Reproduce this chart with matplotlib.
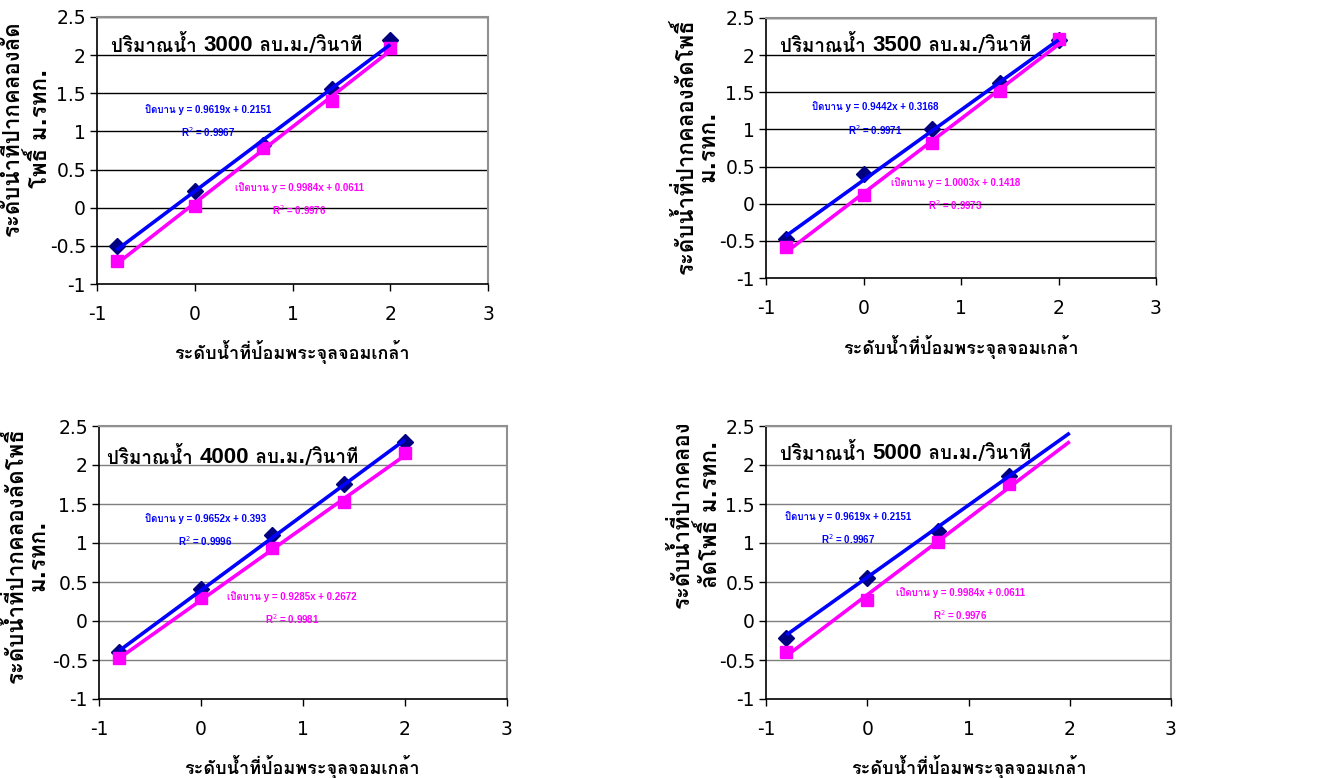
import numpy as np
import matplotlib
matplotlib.use("Agg")
import matplotlib.pyplot as plt
from matplotlib import font_manager
from matplotlib.ft2font import FT2Font
import matplotlib.patheffects as pe

# ---------------- data ----------------
x_vals = [-0.8, 0.0, 0.7, 1.4, 2.0]

flows = ["3000", "3500", "4000", "5000"]

closed_1 = [-0.50, 0.22, 0.82, 1.56, 2.20]
opened_1 = [-0.70, 0.02, 0.78, 1.40, 2.10]
closed_2 = [-0.48, 0.40, 1.00, 1.63, 2.20]
opened_2 = [-0.58, 0.12, 0.82, 1.52, 2.22]
closed_3 = [-0.40, 0.41, 1.10, 1.76, 2.30]
opened_3 = [-0.48, 0.30, 0.94, 1.52, 2.15]
closed_4 = [-0.22, 0.55, 1.15, 1.86, None]
opened_4 = [-0.40, 0.27, 1.01, 1.76, None]

# trendline (slope, intercept) as drawn
trend_closed = [(0.9619, 0.2151), (0.9442, 0.3168), (0.9652, 0.393), (0.925, 0.56)]
trend_opened = [(0.9984, 0.0611), (1.0003, 0.1418), (0.9285, 0.2672), (0.982, 0.336)]

eq_closed = ["ปิดบาน y = 0.9619x + 0.2151\nR$^2$ = 0.9967",
             "ปิดบาน y = 0.9442x + 0.3168\nR$^2$ = 0.9971",
             "ปิดบาน y = 0.9652x + 0.393\nR$^2$ = 0.9996",
             "ปิดบาน y = 0.9619x + 0.2151\nR$^2$ = 0.9967"]
eq_opened = ["เปิดบาน y = 0.9984x + 0.0611\nR$^2$ = 0.9976",
             "เปิดบาน y = 1.0003x + 0.1418\nR$^2$ = 0.9973",
             "เปิดบาน y = 0.9285x + 0.2672\nR$^2$ = 0.9981",
             "เปิดบาน y = 0.9984x + 0.0611\nR$^2$ = 0.9976"]

ylabels = ["ระดับน้ำที่ปากคลองลัด\nโพธิ์ ม.รทก.",
           "ระดับน้ำที่ปากคลองลัดโพธิ์\nม.รทก.",
           "ระดับน้ำที่ปากคลองลัดโพธิ์\nม.รทก.",
           "ระดับน้ำที่ปากคลอง\nลัดโพธิ์ ม.รทก."]
xlabel = "ระดับน้ำที่ป้อมพระจุลจอมเกล้า"
title_pre = "ปริมาณน้ำ "
title_post = " ลบ.ม./วินาที"

x_ticks = [-1, 0, 1, 2, 3]
y_ticks = [-1, -0.5, 0, 0.5, 1, 1.5, 2, 2.5]
y_ticklabels = ["-1", "-0.5", "0", "0.5", "1", "1.5", "2", "2.5"]

# ---------------- font detection for Thai ----------------
thai = {}
for fe in font_manager.fontManager.ttflist:
    try:
        cm = FT2Font(fe.fname).get_charmap()
        if ord("ก") in cm and ord("ำ") in cm:
            w = fe.weight
            isbold = (w in ("bold", "heavy", "black", "semibold", "demibold")) or \
                     (isinstance(w, int) and w >= 600)
            thai.setdefault(fe.name, False)
            thai[fe.name] = thai[fe.name] or isbold
    except Exception:
        pass
thai_family = None
thai_has_bold = False
for name, hb in thai.items():
    if hb:
        thai_family, thai_has_bold = name, True
        break
if thai_family is None and thai:
    thai_family = list(thai.keys())[0]

base = ["DejaVu Sans"] + ([thai_family] if thai_family else [])
plt.rcParams["font.family"] = base
narrow = ["Liberation Sans Narrow", "Liberation Sans"] + ([thai_family] if thai_family else [])
libsans = ["Liberation Sans"] + ([thai_family] if thai_family else [])

def boldfx(color="black", w=0.9):
    if thai_has_bold:
        return []
    return [pe.withStroke(linewidth=w, foreground=color)]

# ---------------- layout ----------------
W, H = 1325, 778
fig = plt.figure(figsize=(W / 100, H / 100), dpi=100)

def px_axes(l, t, r, b):
    return [l / W, 1 - b / H, (r - l) / W, (b - t) / H]

axes_px = [(97, 17, 488, 284), (766, 18, 1156, 278),
           (99, 426, 507, 699), (766, 426, 1171, 699)]
grid_cols = ["black", "black", "#7f7f7f", "#7f7f7f"]
title_pos = [(0.036, 0.895), (0.036, 0.896), (0.02, 0.886), (0.035, 0.90)]
eq_c_pos = [(0.136, 1.36), (0.118, 1.38), (0.04, 1.39), (-0.19, 1.41)]
eq_o_pos = [(1.07, 0.34), (0.94, 0.36), (0.89, 0.39), (0.92, 0.44)]
ylab_pos = [(25, 128), (695, 146), (25, 555), (695, 514)]
xlab_pos = [(292, 352), (961, 347), (302, 767), (969, 767)]

closed_all = [closed_1, closed_2, closed_3, closed_4]
opened_all = [opened_1, opened_2, opened_3, opened_4]

for i in range(4):
    ax = fig.add_axes(px_axes(*axes_px[i]))
    ax.set_xlim(-1, 3)
    ax.set_ylim(-1, 2.5)
    ax.set_xticks(x_ticks)
    ax.set_xticklabels([str(v) for v in x_ticks])
    ax.set_yticks(y_ticks)
    ax.set_yticklabels(y_ticklabels)
    ax.tick_params(axis="both", labelsize=13.5, direction="out", length=5,
                   width=1, color="black")
    ax.tick_params(axis="x", pad=10)
    ax.tick_params(axis="y", pad=3)
    for yv in y_ticks[1:]:
        ax.axhline(yv, color=grid_cols[i], lw=1, zorder=1)
    for s in ("left", "bottom"):
        ax.spines[s].set_color("black")
        ax.spines[s].set_linewidth(1.2)
    for s in ("top", "right"):
        ax.spines[s].set_color("#909090")
        ax.spines[s].set_linewidth(1.5)

    xs_c = [x for x, y in zip(x_vals, closed_all[i]) if y is not None]
    ys_c = [y for y in closed_all[i] if y is not None]
    xs_o = [x for x, y in zip(x_vals, opened_all[i]) if y is not None]
    ys_o = [y for y in opened_all[i] if y is not None]

    ax.plot(xs_c, ys_c, ls="none", marker="D", ms=8, color="#000080", zorder=3)
    ax.plot(xs_o, ys_o, ls="none", marker="s", ms=9, color="#FF00FF", zorder=3)

    xl = np.array([x_vals[0], x_vals[-1]])
    m, c = trend_closed[i]
    ax.plot(xl, m * xl + c, color="#0000FF", lw=2.6, zorder=4, solid_capstyle="butt")
    m, c = trend_opened[i]
    ax.plot(xl, m * xl + c, color="#FF00FF", lw=2.6, zorder=4, solid_capstyle="butt")

    ax.text(eq_c_pos[i][0], eq_c_pos[i][1], eq_closed[i], color="#0000FF",
            fontsize=7, fontweight="bold", ha="center", va="top", family=narrow,
            linespacing=1.9, zorder=5)
    ax.text(eq_o_pos[i][0], eq_o_pos[i][1], eq_opened[i], color="#FF00FF",
            fontsize=7, fontweight="bold", ha="center", va="top", family=narrow,
            linespacing=1.9, zorder=5)

    # title inside the plot
    t1 = ax.text(title_pos[i][0], title_pos[i][1], title_pre, transform=ax.transAxes,
                 fontsize=13.5, fontweight="bold", ha="left", va="center", zorder=6,
                 path_effects=boldfx())
    fig.canvas.draw()
    bb = t1.get_window_extent()
    inv = ax.transAxes.inverted()
    x2 = inv.transform((bb.x1, bb.y0))[0]
    t2 = ax.text(x2, title_pos[i][1], flows[i], transform=ax.transAxes,
                 fontsize=16, fontweight="bold", ha="left", va="center", zorder=6,
                 family=libsans)
    fig.canvas.draw()
    bb2 = t2.get_window_extent()
    x3 = inv.transform((bb2.x1, bb2.y0))[0]
    ax.text(x3, title_pos[i][1], title_post, transform=ax.transAxes,
            fontsize=13.5, fontweight="bold", ha="left", va="center", zorder=6,
            path_effects=boldfx())

    fig.text(ylab_pos[i][0] / W, 1 - ylab_pos[i][1] / H, ylabels[i], rotation=90,
             fontsize=16, fontweight="bold", ha="center", va="center",
             multialignment="center", linespacing=1.12, path_effects=boldfx())
    fig.text(xlab_pos[i][0] / W, 1 - xlab_pos[i][1] / H, xlabel,
             fontsize=13, fontweight="bold", ha="center", va="center",
             path_effects=boldfx())

fig.savefig("out.png", dpi=100)
